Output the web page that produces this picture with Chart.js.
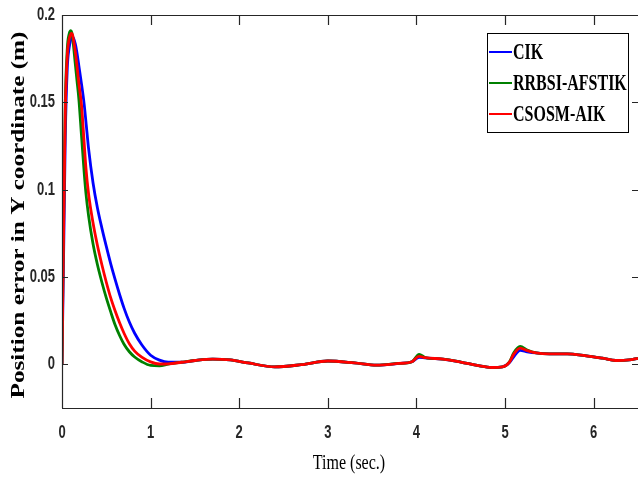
<!DOCTYPE html>
<html>
<head>
<meta charset="utf-8">
<script src="https://cdn.jsdelivr.net/npm/chart.js@4.4.0/dist/chart.umd.min.js"></script>
<style>
    html, body { margin: 0; padding: 0; background: #fff; overflow: hidden; }
</style>
</head>
<body>
<canvas id="myChart" width="638" height="477"></canvas>
<script>
// time axis (s), shared by the three series
const time = [0, 0.01, 0.023, 0.037, 0.06, 0.08, 0.10, 0.11, 0.12, 0.15, 0.17, 0.19, 0.22, 0.25, 0.27, 0.30,
    0.35, 0.40, 0.45, 0.50, 0.55, 0.60, 0.65, 0.70, 0.76, 0.82, 0.90, 1.0, 1.1, 1.2, 1.35, 1.5, 1.7, 1.9,
    2.1, 2.4, 2.7, 3.0, 3.3, 3.55, 3.8, 3.95, 4.03, 4.1, 4.3, 4.5, 4.7, 4.85, 4.97, 5.05, 5.1, 5.17, 5.25,
    5.35, 5.5, 5.7, 5.9, 6.1, 6.25, 6.4, 6.5];

const cik = [0, 0.035, 0.08, 0.13, 0.17, 0.181, 0.186, 0.1873, 0.1876, 0.1835, 0.178, 0.171, 0.1605, 0.149, 0.139, 0.1235,
    0.104, 0.0895, 0.078, 0.0675, 0.0575, 0.0485, 0.040, 0.0322, 0.0242, 0.0178, 0.0112, 0.0052, 0.0024, 0.0012, 0.0012, 0.0022, 0.003, 0.0025,
    0.0008, -0.0015, -0.0002, 0.0019, 0.0008, -0.0005, 0.0005, 0.0015, 0.004, 0.0037, 0.003, 0.0013, -0.0008, -0.0018, -0.0015, 0.001, 0.0045, 0.008, 0.0072,
    0.0065, 0.006, 0.006, 0.005, 0.0035, 0.0022, 0.0025, 0.0034];

const rrbsi = [0, 0.05, 0.1, 0.15, 0.181, 0.189, 0.191, 0.19, 0.187, 0.172, 0.162, 0.152, 0.131, 0.11, 0.098, 0.085,
    0.069, 0.057, 0.047, 0.038, 0.030, 0.0225, 0.0165, 0.0115, 0.0072, 0.0042, 0.0015, -0.0006, -0.0008, 0.0001, 0.0012, 0.0022, 0.003, 0.0025,
    0.0008, -0.0015, -0.0002, 0.0019, 0.0008, -0.0005, 0.0005, 0.0015, 0.0057, 0.0039, 0.003, 0.0013, -0.0008, -0.0018, -0.0015, 0.0015, 0.0068, 0.0103, 0.0082,
    0.0066, 0.006, 0.006, 0.005, 0.0035, 0.0022, 0.0025, 0.0034];

const csosm = [0, 0.045, 0.095, 0.145, 0.177, 0.186, 0.1892, 0.1895, 0.1885, 0.179, 0.1705, 0.161, 0.1485, 0.127, 0.1125, 0.0975,
    0.081, 0.068, 0.057, 0.047, 0.038, 0.0305, 0.0238, 0.0178, 0.0118, 0.0076, 0.0041, 0.0014, 0.0002, 0.0003, 0.0012, 0.0022, 0.003, 0.0025,
    0.0008, -0.0015, -0.0002, 0.0019, 0.0008, -0.0005, 0.0005, 0.0015, 0.0046, 0.0038, 0.003, 0.0013, -0.0008, -0.0018, -0.0015, 0.0013, 0.006, 0.0093, 0.0078,
    0.0065, 0.006, 0.006, 0.005, 0.0035, 0.0022, 0.0025, 0.0034];

const seriesNames = ['CIK', 'RRBSI-AFSTIK', 'CSOSM-AIK'];
const seriesColors = ['#0000ff', '#008000', '#ff0000'];
const xTicks = [0, 1, 2, 3, 4, 5, 6];
const yTicks = [0, 0.05, 0.1, 0.15, 0.2];
const xTitle = 'Time (sec.)';
const yTitle = 'Position error in Y coordinate (m)';

const toPoints = (vals) => vals.map((v, i) => ({ x: time[i], y: v }));
const axisColor = '#262626';
const labelFont = "bold 13px 'Liberation Sans', Arial, sans-serif";
const serifBold = "bold 16px 'Liberation Serif', 'Times New Roman', serif";

// draw text squeezed like the original figure (taller than wide)
function stretchedText(ctx, text, x, y, sx, sy, rot) {
    ctx.save();
    ctx.translate(x, y);
    if (rot) ctx.rotate(rot);
    ctx.scale(sx, sy);
    ctx.fillText(text, 0, 0);
    ctx.restore();
}

// box, inward ticks, tick labels, titles and the legend (MATLAB look)
const framePlugin = {
    id: 'frame',
    afterDraw(chart) {
        const ctx = chart.ctx;
        const a = chart.chartArea;
        const xs = chart.scales.x;
        const ys = chart.scales.y;
        ctx.save();
        ctx.strokeStyle = axisColor;
        ctx.lineWidth = 1.2;
        ctx.beginPath();
        ctx.moveTo(a.left, a.top + 0.5);
        ctx.lineTo(a.right, a.top + 0.5);
        ctx.moveTo(a.left + 0.5, a.top);
        ctx.lineTo(a.left + 0.5, a.bottom);
        ctx.moveTo(a.left, a.bottom + 0.5);
        ctx.lineTo(a.right, a.bottom + 0.5);
        xTicks.forEach(v => {
            const px = Math.round(xs.getPixelForValue(v)) + 0.5;
            ctx.moveTo(px, a.bottom);
            ctx.lineTo(px, a.bottom - 10);
            ctx.moveTo(px, a.top);
            ctx.lineTo(px, a.top + 10);
        });
        yTicks.forEach(v => {
            const py = Math.round(ys.getPixelForValue(v)) + 0.5;
            ctx.moveTo(a.left, py);
            ctx.lineTo(a.left + 6, py);
            ctx.moveTo(a.right, py);
            ctx.lineTo(a.right - 6, py);
        });
        ctx.stroke();

        // tick labels
        ctx.fillStyle = axisColor;
        ctx.font = labelFont;
        ctx.textBaseline = 'middle';
        ctx.textAlign = 'center';
        xTicks.forEach(v => {
            stretchedText(ctx, String(v), xs.getPixelForValue(v), a.bottom + 25, 1, 1.4);
        });
        ctx.textAlign = 'right';
        yTicks.forEach(v => {
            stretchedText(ctx, String(v), a.left - 7, ys.getPixelForValue(v), 1, 1.4);
        });

        // titles
        ctx.fillStyle = '#000';
        ctx.textAlign = 'center';
        ctx.font = "bold 18px 'Liberation Serif', 'Times New Roman', serif";
        stretchedText(ctx, yTitle, 19, 215, 1.4, 1, -Math.PI / 2);
        ctx.font = "16px 'Liberation Serif', 'Times New Roman', serif";
        stretchedText(ctx, xTitle, 349, 464, 1, 1.3);

        // legend
        ctx.fillStyle = '#fff';
        ctx.fillRect(487.5, 33.5, 141, 99);
        ctx.strokeStyle = '#000';
        ctx.lineWidth = 1;
        ctx.strokeRect(487.5, 33.5, 141, 99);
        const rows = [52, 83, 114];
        chart.data.datasets.forEach((ds, i) => {
            const y = rows[i];
            ctx.strokeStyle = ds.borderColor;
            ctx.lineWidth = 2;
            ctx.beginPath();
            ctx.moveTo(489, y);
            ctx.lineTo(512, y);
            ctx.stroke();
            ctx.fillStyle = '#000';
            ctx.textAlign = 'left';
            ctx.font = serifBold;
            stretchedText(ctx, ds.label, 513, y + 1, 1, 1.4);
        });
        ctx.restore();
    }
};

const ctx = document.getElementById('myChart').getContext('2d');
const myChart = new Chart(ctx, {
    type: 'line',
    data: {
        datasets: [cik, rrbsi, csosm].map((vals, i) => ({
            label: seriesNames[i],
            data: toPoints(vals),
            borderColor: seriesColors[i],
            borderWidth: 2.8,
            pointRadius: 0,
            fill: false,
            cubicInterpolationMode: 'monotone',
            order: 3 - i
        }))
    },
    options: {
        responsive: false,
        animation: false,
        devicePixelRatio: 1,
        layout: { padding: { top: 15, right: 0, left: 0, bottom: 0 } },
        plugins: {
            legend: { display: false },
            tooltip: { enabled: false }
        },
        scales: {
            x: {
                type: 'linear',
                min: 0,
                max: 6.5,
                afterBuildTicks: s => { s.ticks = xTicks.map(v => ({ value: v })); },
                afterFit: s => { s.height = 69; },
                grid: { display: false, drawTicks: false },
                border: { display: false },
                ticks: { display: false }
            },
            y: {
                type: 'linear',
                min: -0.025,
                max: 0.2,
                afterBuildTicks: s => { s.ticks = yTicks.map(v => ({ value: v })); },
                afterFit: s => { s.width = 62; },
                grid: { display: false, drawTicks: false },
                border: { display: false },
                ticks: { display: false }
            }
        }
    },
    plugins: [framePlugin]
});
</script>
</body>
</html>
